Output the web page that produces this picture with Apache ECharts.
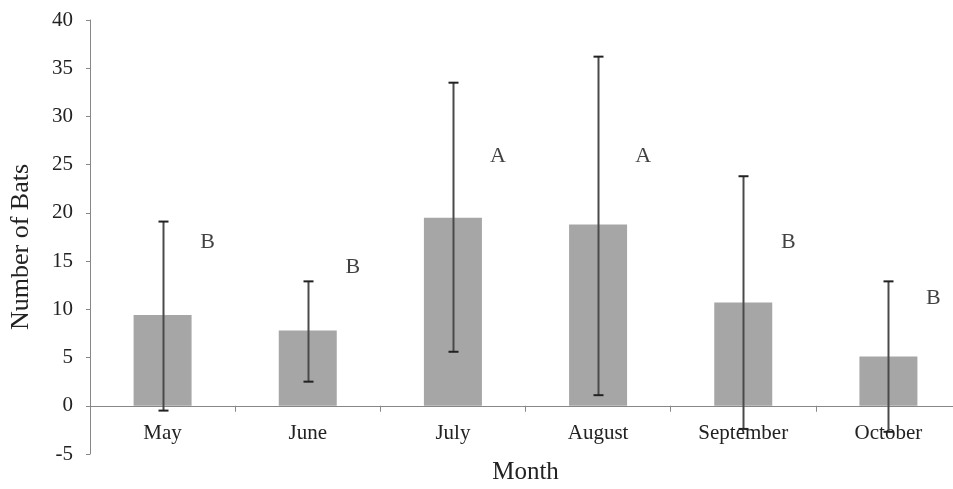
<!DOCTYPE html>
<html>
<head>
<meta charset="utf-8">
<script src="https://cdn.jsdelivr.net/npm/echarts@6/dist/echarts.min.js"></script>
<style>
  html, body { margin: 0; padding: 0; background: #fff; }
  #chart { width: 953px; height: 489px; }
</style>
</head>
<body>
<div id="chart"></div>
<script>
  // bat counts per month, mean with error bar ends
  const months = ['May', 'June', 'July', 'August', 'September', 'October']
  const meanBats = [9.4, 7.8, 19.5, 18.8, 10.7, 5.1]
  const errLow = [-0.5, 2.5, 5.6, 1.1, -2.4, -2.7]
  const errHigh = [19.1, 12.9, 33.5, 36.2, 23.8, 12.9]
  const groupLetters = ['B', 'B', 'A', 'A', 'B', 'B']
  const letterY = [17.0, 14.4, 25.9, 25.9, 17.0, 11.2]
  const yTicks = { min: -5, max: 40, step: 5 }

  const font = '"Liberation Serif", "Times New Roman", serif'
  const axisGray = '#878787'

  const chart = echarts.init(document.getElementById('chart'))

  const errData = months.map((m, i) => [i, errLow[i], errHigh[i]])
  const letterData = months.map((m, i) => [i, letterY[i]])

  const option = {
    animation: false,
    backgroundColor: '#fff',
    grid: {
      left: 90,
      right: -8,
      top: 20,
      bottom: 35,
      containLabel: false,
      outerBoundsMode: 'none'
    },
    xAxis: {
      type: 'category',
      data: months,
      name: 'Month',
      nameLocation: 'middle',
      nameGap: 6,
      nameTextStyle: { fontFamily: font, fontSize: 25, color: '#222' },
      axisLine: { onZero: true, lineStyle: { color: axisGray, width: 1 } },
      axisTick: { show: true, length: 6, lineStyle: { color: axisGray } },
      axisLabel: { fontFamily: font, fontSize: 21, color: '#222', margin: -31 },
      splitLine: { show: false }
    },
    yAxis: {
      type: 'value',
      min: yTicks.min,
      max: yTicks.max,
      interval: yTicks.step,
      name: 'Number of Bats',
      nameLocation: 'middle',
      nameGap: 56,
      nameTextStyle: { fontFamily: font, fontSize: 26, color: '#222', padding: [0, 20, 0, 0] },
      axisLine: { show: true, onZero: false, lineStyle: { color: axisGray, width: 1 } },
      axisTick: { show: true, length: 4, lineStyle: { color: axisGray } },
      axisLabel: { fontFamily: font, fontSize: 21, color: '#222', margin: 17 },
      splitLine: { show: false }
    },
    series: [
      {
        type: 'bar',
        data: meanBats,
        barWidth: 58,
        itemStyle: { color: '#a6a6a6' },
        z: 2
      },
      {
        type: 'custom',
        data: errData,
        z: 3,
        renderItem: function (params, api) {
          const i = api.value(0)
          const lo = api.coord([i, api.value(1)])
          const hi = api.coord([i, api.value(2)])
          const x = Math.round(lo[0]) + 0.5
          const cap = 5
          const style = { stroke: '#4a4a4a', lineWidth: 2 }
          return {
            type: 'group',
            children: [
              { type: 'line', shape: { x1: x, y1: lo[1], x2: x, y2: hi[1] }, style: style },
              { type: 'line', shape: { x1: x - cap, y1: lo[1], x2: x + cap, y2: lo[1] }, style: { stroke: '#222', lineWidth: 2 } },
              { type: 'line', shape: { x1: x - cap, y1: hi[1], x2: x + cap, y2: hi[1] }, style: { stroke: '#222', lineWidth: 2 } }
            ]
          }
        }
      },
      {
        type: 'scatter',
        data: letterData,
        symbolSize: 0,
        z: 4,
        label: {
          show: true,
          position: 'inside',
          offset: [45, 0],
          fontFamily: font,
          fontSize: 22,
          color: '#111',
          formatter: p => groupLetters[p.dataIndex]
        }
      }
    ]
  }

  chart.setOption(option)
</script>
</body>
</html>
